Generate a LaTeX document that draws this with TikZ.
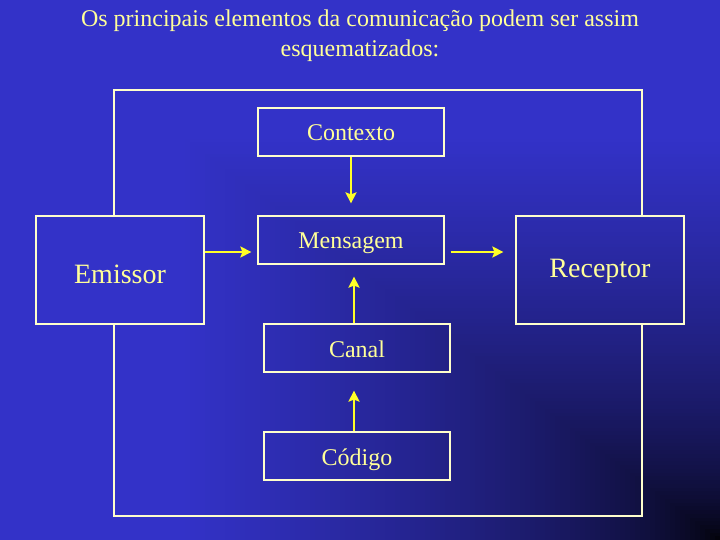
\documentclass[tikz,border=0pt]{standalone}
\usepackage{fontspec}
\setmainfont{Liberation Serif}
\usepackage{tikz}
\usetikzlibrary{arrows.meta}
\definecolor{bgblue}{RGB}{51,50,200}
\definecolor{txtyel}{RGB}{255,255,153}
\definecolor{lineyel}{RGB}{255,255,204}
\definecolor{arryel}{RGB}{255,255,40}
\tikzstyle{box} = [rectangle, minimum width=186bp, minimum height=48bp, inner sep=0pt, text height=18bp, text depth=0bp, text centered, draw=lineyel, line width=1.2bp, text=txtyel, font=\fontsize{24bp}{29bp}\selectfont]
\tikzstyle{bigbox} = [box, minimum width=168bp, minimum height=108bp, font=\fontsize{28bp}{34bp}\selectfont]
\tikzstyle{frame} = [draw=lineyel, line width=1.2bp]
\tikzstyle{arrow} = [draw=arryel, line width=2.5bp, -{Stealth[length=11bp,width=11bp,inset=2bp]}]
\begin{document}
\begin{tikzpicture}
				[x=1bp, y=1bp, node distance=108bp]

				\useasboundingbox (0,0) rectangle (720,-540);
				% fundo: escurece para o canto inferior direito
				\foreach \i in {144,143,...,1} {
					\pgfmathsetmacro{\p}{min(100, 100*(\i/108)^0.6)}
					\fill [bgblue!\p!black] (720-5*\i, -540+3.75*\i) rectangle (720,-540);
				}

				\node (titulo) [anchor=north, inner sep=0pt, text=txtyel, align=center, font=\fontsize{24bp}{30bp}\selectfont] at (360,-10) {Os principais elementos da comunicação podem ser assim\\esquematizados:};

				\node (mensagem) [box] at (351,-240) {Mensagem};
				\node (contexto) [box, above of = mensagem] {Contexto};
				\node (canal) [box, below of = mensagem, xshift = 6bp] {Canal};
				\node (codigo) [box, below of = canal] {Código};
				\node (emissor) [bigbox, text height=26bp, left of = mensagem, xshift = -123bp, yshift = -30bp] {Emissor};
				\node (receptor) [bigbox, text height=14bp, right of = mensagem, xshift = 141bp, yshift = -30bp] {Receptor};

				\coordinate (tl) at (114,-90);
				\coordinate (tr) at (642,-90);
				\coordinate (br) at (642,-516);
				\coordinate (bl) at (114,-516);
				\draw [frame] (emissor.north -| tl) -- (tl) -- (tr) -- (receptor.north -| tr);
				\draw [frame] (receptor.south -| tr) -- (br) -- (bl) -- (emissor.south -| bl);

				\draw [arrow, shorten >=12bp] (contexto) -- (mensagem);
				\draw [arrow, shorten >=6bp] ([yshift=18bp]emissor.east) -- ([yshift=-12bp]mensagem.west);
				\draw [arrow, shorten <=6bp, shorten >=12bp] ([yshift=-12bp]mensagem.east) -- ([yshift=18bp]receptor.west);
				\draw [arrow, shorten >=12bp] ([xshift=-3bp]canal.north) -- ([xshift=-3bp]canal.north |- mensagem.south);
				\draw [arrow, shorten >=18bp] ([xshift=-3bp]codigo.north) -- ([xshift=-3bp]canal.south);
			\end{tikzpicture}
\end{document}
